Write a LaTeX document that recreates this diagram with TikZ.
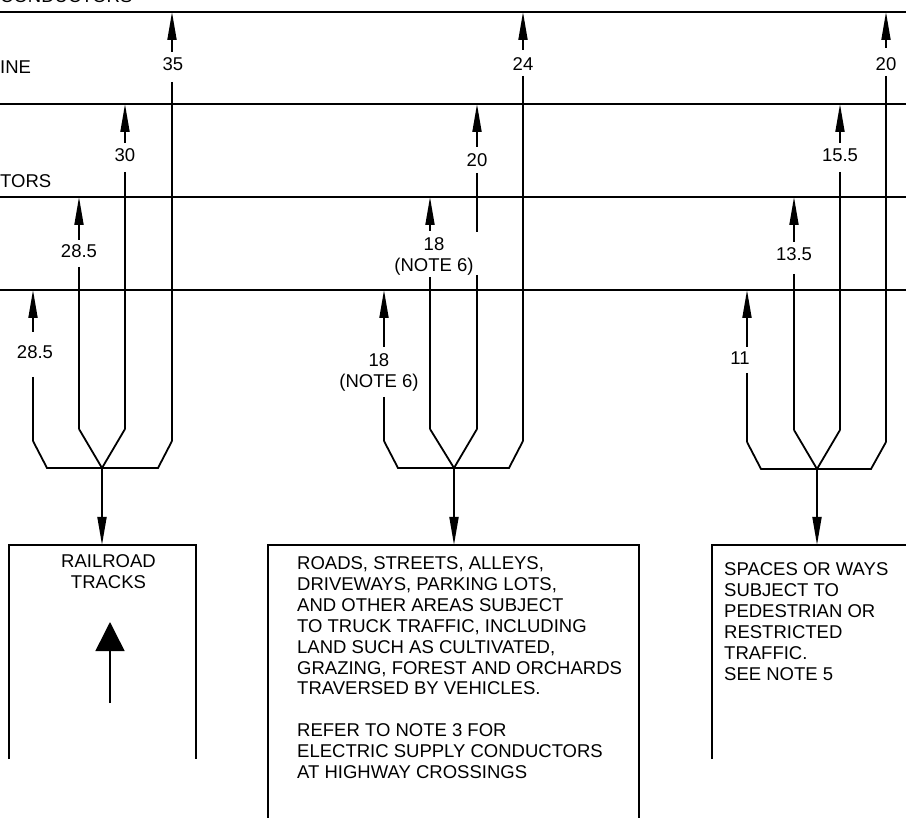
\documentclass[tikz,border=0pt]{standalone}
\usepackage{fontspec}
\setmainfont{Liberation Sans}
\usetikzlibrary{arrows.meta}
\begin{document}
\begin{tikzpicture}[x=1pt,y=-1pt,
  wire/.style={line width=1.8pt,line join=miter},
  dimarrow/.style={line width=1.8pt,-{Triangle[length=28pt,width=9pt]}},
  lbl/.style={inner sep=0pt,anchor=base,font=\fontsize{18.5}{21}\selectfont},
  twolbl/.style={inner sep=0pt,anchor=north,align=center,font=\fontsize{18.5}{21}\selectfont},
  boxtext/.style={inner sep=0pt,anchor=base west,font=\fontsize{18.5}{21}\selectfont},
  bigarrow/.style={line width=1.5pt,-{Triangle[length=29pt,width=29pt]}}]
\useasboundingbox (0,0) rectangle (906,818);
\clip (0,0) rectangle (906,818);

% level lines
\foreach \n/\y in {1/12,2/104,3/197,4/290}{
  \coordinate (hl\n) at (0,\y);
  \coordinate (hr\n) at (906,\y);
  \draw[wire] (hl\n) -- (hr\n);
}

% partial captions at the left edge
\node[boxtext] (capA) at (0,3) {CONDUCTORS};
\node[boxtext] (capB) at (0,74) {INE};
\node[boxtext] (capC) at (0,188) {TORS};

% single-line clearance dimensions: name/x/label x/level/stem end/baseline/resume/bottom/text
\foreach \n/\x/\lx/\yl/\ys/\yb/\yr/\ye/\t in {
  1a/33/35/290/332/359/377/441/28.5,
  1b/79/79/197/240/258/267/429/28.5,
  1c/125/125/104/143/162/172/429/30,
  1d/172/173/12/52/71/82/441/35,
  2d/523/523/12/50/71/76/441/24,
  3a/747/740/290/347/365/373/442/11,
  3b/794/794/197/242/261/274/430/13.5,
  3c/840/840/104/143/162/172/430/15.5,
  3d/886/886/12/48/71/76/442/20}{
  \coordinate (p\n) at (\x,\yl);
  \coordinate (s\n) at (\x,\ys);
  \coordinate (r\n) at (\x,\yr);
  \coordinate (b\n) at (\x,\ye);
  \node[lbl] (l\n) at (\lx,\yb) {\t};
  \draw[dimarrow] (s\n) -- (p\n);
  \draw[wire] (r\n) -- (b\n);
}

% 20 at x=477 (line interrupted behind the NOTE 6 label)
\coordinate (p2c) at (477,104);
\coordinate (s2c) at (477,147);
\coordinate (r2c) at (477,173);
\coordinate (g2c) at (477,232);
\coordinate (h2c) at (477,275);
\coordinate (b2c) at (477,429);
\node[lbl] (l2c) at (477,167) {20};
\draw[dimarrow] (s2c) -- (p2c);
\draw[wire] (r2c) -- (g2c);
\draw[wire] (h2c) -- (b2c);

% two-line dimensions
\coordinate (p2a) at (384,290);
\coordinate (s2a) at (384,347);
\coordinate (r2a) at (384,397);
\coordinate (b2a) at (384,441);
\node[twolbl] (l2a) at (379,353) {18\\(NOTE 6)};
\draw[dimarrow] (s2a) -- (p2a);
\draw[wire] (r2a) -- (b2a);

\coordinate (p2b) at (430,197);
\coordinate (s2b) at (430,231);
\coordinate (r2b) at (430,277);
\coordinate (b2b) at (430,429);
\node[twolbl] (l2b) at (434,237) {18\\(NOTE 6)};
\draw[dimarrow] (s2b) -- (p2b);
\draw[wire] (r2b) -- (b2b);

% brackets joining the verticals
\coordinate (m1) at (102,468);
\coordinate (m2) at (454,468);
\coordinate (m3) at (817,469);
\draw[wire] (b1a) -- (47,468) -- (158,468) -- (b1d);
\draw[wire] (b1b) -- (m1) -- (b1c);
\draw[wire] (b2a) -- (398,468) -- (509,468) -- (b2d);
\draw[wire] (b2b) -- (m2) -- (b2c);
\draw[wire] (b3a) -- (761,469) -- (871,469) -- (b3d);
\draw[wire] (b3b) -- (m3) -- (b3c);

% boxes (open at the bottom)
\coordinate (t1) at (102,545);
\coordinate (t2) at (454,545);
\coordinate (t3) at (817,545);
\draw[wire] (9,759) -- (9,545) -- (196,545) -- (196,759);
\draw[wire] (268,818) -- (268,545) -- (639,545) -- (639,818);
\draw[wire] (712,759) -- (712,545) -- (906,545);

\draw[dimarrow] (m1) -- (t1);
\draw[dimarrow] (m2) -- (t2);
\draw[dimarrow] (m3) -- (t3);

% box texts
\node[twolbl] (rail) at (108.5,554.7) {RAILROAD\\TRACKS};
\coordinate (rb) at (110,703);
\coordinate (rt) at (110,622);
\draw[bigarrow] (rb) -- (rt);

\node[boxtext] (roads) at (297,569) {\begin{tabular}[t]{@{}l@{}}
ROADS, STREETS, ALLEYS,\\
DRIVEWAYS, PARKING LOTS,\\
AND OTHER AREAS SUBJECT\\
TO TRUCK TRAFFIC, INCLUDING\\
LAND SUCH AS CULTIVATED,\\
GRAZING, FOREST AND ORCHARDS\\
TRAVERSED BY VEHICLES.\\
\\
REFER TO NOTE 3 FOR\\
ELECTRIC SUPPLY CONDUCTORS\\
AT HIGHWAY CROSSINGS
\end{tabular}};

\node[boxtext] (spaces) at (724,575.5) {\begin{tabular}[t]{@{}l@{}}
SPACES OR WAYS\\
SUBJECT TO\\
PEDESTRIAN OR\\
RESTRICTED\\
TRAFFIC.\\
SEE NOTE 5
\end{tabular}};
\end{tikzpicture}
\end{document}
